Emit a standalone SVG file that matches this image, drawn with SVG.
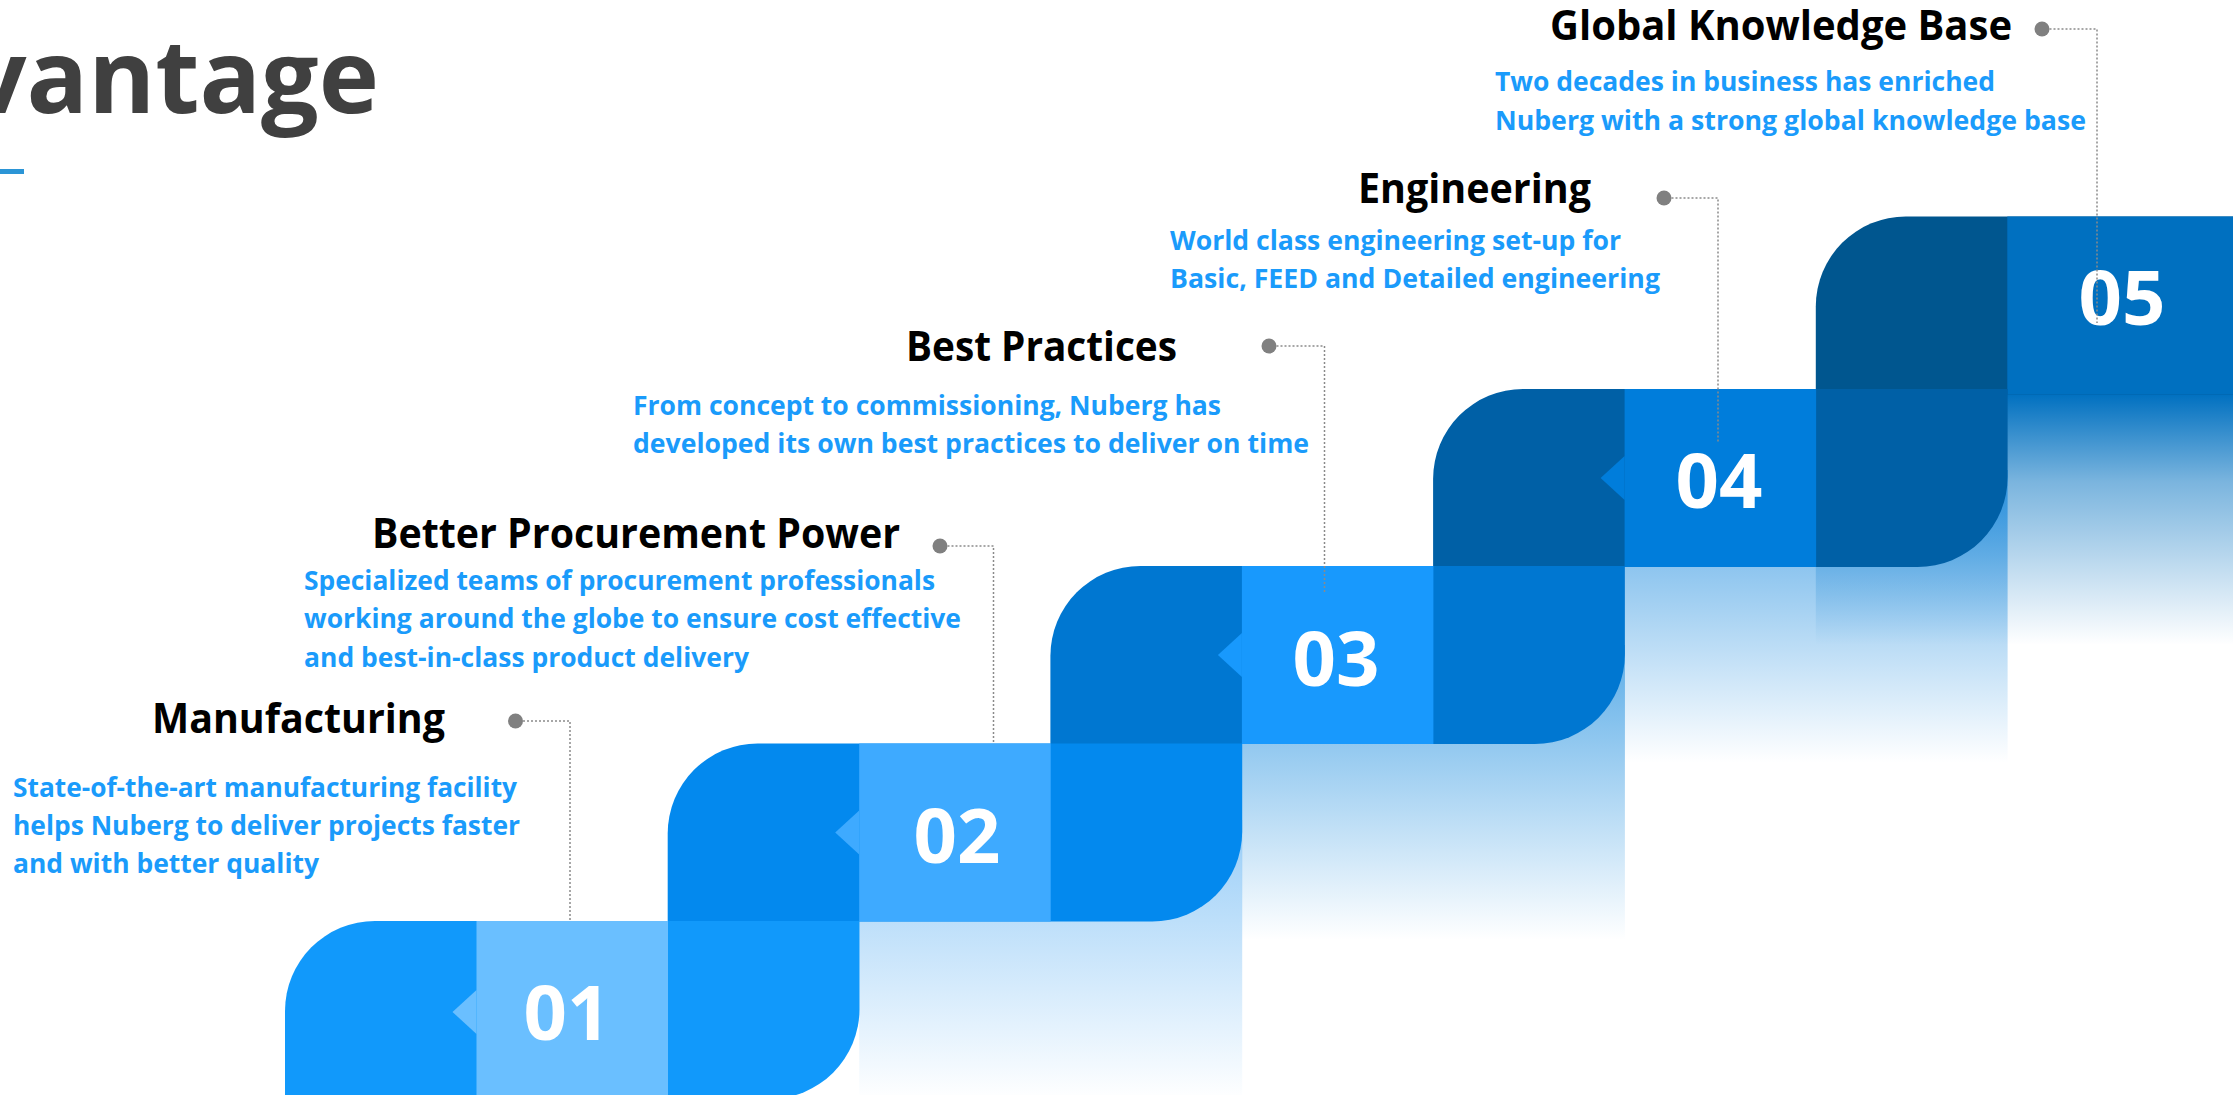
<svg xmlns="http://www.w3.org/2000/svg" width="2233" height="1095" viewBox="0 0 2233 1095">
<style>
.h{font-family:"Open Sans","Liberation Sans",sans-serif;font-weight:700;font-size:42px;fill:#000}
.d{font-family:"Open Sans","Liberation Sans",sans-serif;font-weight:700;font-size:26px;fill:#1a9bfb}
.n{font-family:"Open Sans","Liberation Sans",sans-serif;font-weight:700;font-size:76px;fill:#fff;text-anchor:middle}
.c{fill:none;stroke:#8a8a8a;stroke-width:1.5;stroke-dasharray:2 2}
.dot{fill:#808080}
</style>
<defs>
<linearGradient id="g5" gradientUnits="userSpaceOnUse" x1="0" y1="394" x2="0" y2="645">
<stop offset="0" stop-color="#0070c0" stop-opacity="1"/><stop offset="0.35" stop-color="#0070c0" stop-opacity="0.52"/><stop offset="1" stop-color="#0070c0" stop-opacity="0"/>
</linearGradient>
<linearGradient id="g4" gradientUnits="userSpaceOnUse" x1="0" y1="323" x2="0" y2="763">
<stop offset="0" stop-color="#007ddb" stop-opacity="1"/><stop offset="1" stop-color="#007ddb" stop-opacity="0"/>
</linearGradient>
<linearGradient id="g3" gradientUnits="userSpaceOnUse" x1="0" y1="500" x2="0" y2="940">
<stop offset="0" stop-color="#0a84dc" stop-opacity="1"/><stop offset="1" stop-color="#0a84dc" stop-opacity="0"/>
</linearGradient>
<linearGradient id="g2" gradientUnits="userSpaceOnUse" x1="0" y1="820" x2="0" y2="1100">
<stop offset="0" stop-color="#1a90ee" stop-opacity="0.45"/><stop offset="1" stop-color="#1a90ee" stop-opacity="0"/>
</linearGradient>
</defs>
<rect width="2233" height="1095" fill="#fff"/>

<g id="title">
<text x="379" y="113" font-family="Open Sans, Liberation Sans, sans-serif" font-weight="700" font-size="102" fill="#404040" text-anchor="end">vantage</text>
<rect x="0" y="169" width="24" height="5" fill="#2b95d6"/>
</g>

<g id="shadows">
<rect x="1815.8" y="394" width="417.2" height="252" fill="url(#g5)"/>
<rect x="1624.6" y="470" width="383" height="294" fill="url(#g4)"/>
<rect x="1241.9" y="645" width="383" height="296" fill="url(#g3)"/>
<rect x="859.2" y="820" width="383" height="280" fill="url(#g2)"/>
</g>

<g id="step5">
<path d="M1815.8,306.5 A90,90 0 0 1 1905.8,216.5 H2240 V394.5 H1815.8 Z" fill="#00568f"/>
<rect x="2007.3" y="216.5" width="232" height="178" fill="#0070c0"/>
<text class="n" x="2122" y="325">05</text>
</g>

<g id="step4">
<path d="M1433.1,479 A90,90 0 0 1 1523.1,389 H2007.6 V477 A90,90 0 0 1 1917.6,567 H1433.1 Z" fill="#0060a6"/>
<rect x="1624.6" y="389" width="191.5" height="178" fill="#007ddb"/>
<polygon points="1624.6,456 1600.6,478 1624.6,500" fill="#007ddb"/>
<text class="n" x="1719" y="508">04</text>
</g>

<g id="step3">
<path d="M1050.4,656 A90,90 0 0 1 1140.4,566 H1624.9 V654 A90,90 0 0 1 1534.9,744 H1050.4 Z" fill="#0077d1"/>
<rect x="1241.9" y="566" width="191.5" height="178" fill="#1899fd"/>
<polygon points="1241.9,633 1217.9,655 1241.9,677" fill="#1899fd"/>
<text class="n" x="1336" y="686">03</text>
</g>

<g id="step2">
<path d="M667.7,833.5 A90,90 0 0 1 757.7,743.5 H1242.2 V831.5 A90,90 0 0 1 1152.2,921.5 H667.7 Z" fill="#0389ee"/>
<rect x="859.2" y="743.5" width="191.5" height="178" fill="#3eaaff"/>
<polygon points="859.2,810.5 835.2,832.5 859.2,854.5" fill="#3eaaff"/>
<text class="n" x="957" y="863">02</text>
</g>

<g id="step1">
<path d="M285,1011 A90,90 0 0 1 375,921 H859.5 V1009 A90,90 0 0 1 769.5,1099 H285 Z" fill="#1199fb"/>
<rect x="476.5" y="921" width="191.5" height="178" fill="#6abfff"/>
<polygon points="476.5,990 452.5,1012 476.5,1034" fill="#6abfff"/>
<text class="n" x="567" y="1040">01</text>
</g>

<g id="connectors">
<circle class="dot" cx="515.5" cy="721" r="7.5"/>
<path class="c" d="M523,721 H570 V921"/>
<circle class="dot" cx="940" cy="546" r="7.5"/>
<path class="c" d="M947.5,546 H993.5 V743.5"/>
<circle class="dot" cx="1269" cy="346" r="7.5"/>
<path class="c" d="M1276.5,346 H1324.5 V592"/>
<circle class="dot" cx="1664" cy="198" r="7.5"/>
<path class="c" d="M1671.5,198 H1718 V443"/>
<circle class="dot" cx="2042" cy="29" r="7.5"/>
<path class="c" d="M2049.5,29 H2097 V323"/>
</g>

<g id="label1">
<text class="h" x="152" y="733" textLength="293" lengthAdjust="spacingAndGlyphs">Manufacturing</text>
<text class="d" x="13" y="797" textLength="504" lengthAdjust="spacingAndGlyphs">State-of-the-art manufacturing facility</text>
<text class="d" x="13" y="835" textLength="507" lengthAdjust="spacingAndGlyphs">helps Nuberg to deliver projects faster</text>
<text class="d" x="13" y="873" textLength="306" lengthAdjust="spacingAndGlyphs">and with better quality</text>
</g>

<g id="label2">
<text class="h" x="372" y="548" textLength="528" lengthAdjust="spacingAndGlyphs">Better Procurement Power</text>
<text class="d" x="304" y="590" textLength="631" lengthAdjust="spacingAndGlyphs">Specialized teams of procurement professionals</text>
<text class="d" x="304" y="628" textLength="657" lengthAdjust="spacingAndGlyphs">working around the globe to ensure cost effective</text>
<text class="d" x="304" y="667" textLength="445" lengthAdjust="spacingAndGlyphs">and best-in-class product delivery</text>
</g>

<g id="label3">
<text class="h" x="906" y="361" textLength="271" lengthAdjust="spacingAndGlyphs">Best Practices</text>
<text class="d" x="633" y="415" textLength="588" lengthAdjust="spacingAndGlyphs">From concept to commissioning, Nuberg has</text>
<text class="d" x="633" y="453" textLength="676" lengthAdjust="spacingAndGlyphs">developed its own best practices to deliver on time</text>
</g>

<g id="label4">
<text class="h" x="1358" y="203" textLength="233" lengthAdjust="spacingAndGlyphs">Engineering</text>
<text class="d" x="1170" y="250" textLength="451" lengthAdjust="spacingAndGlyphs">World class engineering set-up for</text>
<text class="d" x="1170" y="288" textLength="490" lengthAdjust="spacingAndGlyphs">Basic, FEED and Detailed engineering</text>
</g>

<g id="label5">
<text class="h" x="1550" y="40" textLength="462" lengthAdjust="spacingAndGlyphs">Global Knowledge Base</text>
<text class="d" x="1495" y="91" textLength="500" lengthAdjust="spacingAndGlyphs">Two decades in business has enriched</text>
<text class="d" x="1495" y="130" textLength="591" lengthAdjust="spacingAndGlyphs">Nuberg with a strong global knowledge base</text>
</g>
</svg>
